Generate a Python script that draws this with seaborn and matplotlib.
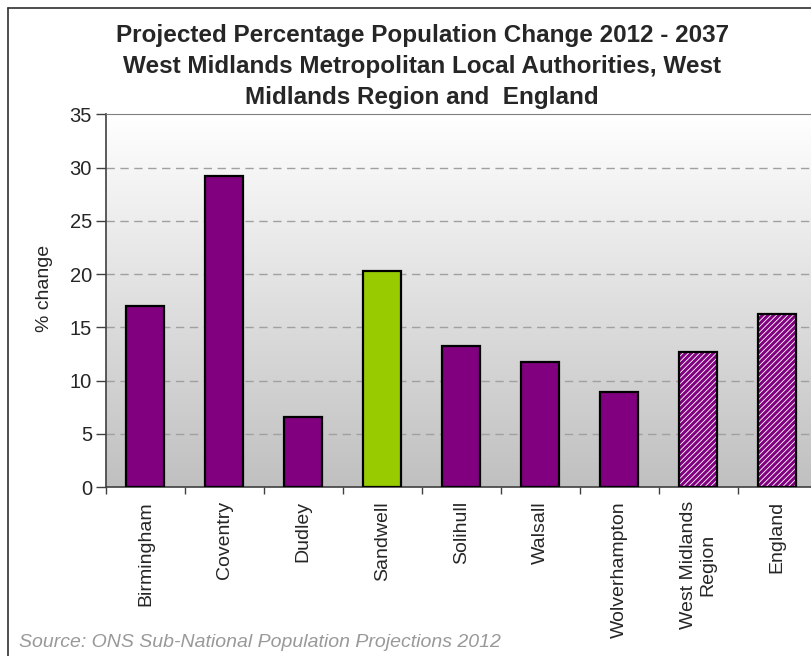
import numpy as np
import seaborn as sns
import pandas as pd
import matplotlib.pyplot as plt
from matplotlib.lines import Line2D

# data
areas = ['Birmingham', 'Coventry', 'Dudley', 'Sandwell', 'Solihull', 'Walsall',
         'Wolverhampton', 'West Midlands\nRegion', 'England']
pct_change = [17.0, 29.2, 6.6, 20.3, 13.25, 11.7, 8.9, 12.7, 16.3]
bar_kind = ['la', 'la', 'la', 'focus', 'la', 'la', 'la', 'comparator', 'comparator']

df = pd.DataFrame({'area': areas, 'change': pct_change, 'kind': bar_kind})

purple = '#800080'
green = '#99CC00'
colors = [green if k == 'focus' else purple for k in bar_kind]

sns.set_style('white')
plt.rcParams['font.family'] = ['Liberation Sans', 'DejaVu Sans']
plt.rcParams['hatch.linewidth'] = 2.2

fig = plt.figure(figsize=(8.12, 6.56), dpi=100)
ax = fig.add_axes([0.1305, 0.2576, 0.875, 0.5679])

# gradient background, white at top to grey at bottom
grad = np.linspace(0, 1, 256).reshape(-1, 1)
ax.imshow(grad, extent=[0, 1, 0, 1], transform=ax.transAxes, aspect='auto',
          cmap=sns.blend_palette(['#c0c0c0', '#ffffff'], as_cmap=True),
          origin='lower', zorder=0)

# filled bars (hatched ones get purple stripes on white)
sns.barplot(df, x='area', y='change', hue='area', palette=colors, legend=False,
            width=0.48, linewidth=0, saturation=1, ax=ax, zorder=3)
for patch, k in zip(ax.patches, bar_kind):
    if k == 'comparator':
        patch.set_facecolor('white')
        patch.set_edgecolor(purple)
        patch.set_hatch('//////')
        patch.set_linewidth(0)

# black outlines on top
sns.barplot(df, x='area', y='change', fill=False, color='black', width=0.48,
            linewidth=1.6, ax=ax, zorder=4)

ax.set_xlim(-0.5, len(areas) - 0.5)
ax.set_ylim(0, 35)
ax.set_yticks(range(0, 36, 5))
for y in range(5, 35, 5):
    ax.axhline(y, color='#a0a0a0', lw=1, ls=(0, (6, 4)), zorder=1)

ax.set_xticks(np.arange(-0.5, len(areas), 1), minor=True)
ax.tick_params(axis='x', which='major', length=0, labelsize=14, rotation=90, pad=10)
ax.tick_params(axis='x', which='minor', length=5, width=1, color='#404040', bottom=True)
ax.tick_params(axis='y', length=7, width=1, color='#404040', labelsize=14.5, left=True, pad=3)
ax.set_xlabel('')
ax.set_ylabel('% change', fontsize=14)
ax.yaxis.set_label_coords(-0.0746, 0.534)

for side in ['left', 'bottom']:
    ax.spines[side].set_color('#404040')
    ax.spines[side].set_linewidth(1.2)
ax.spines['top'].set_color('#808080')
ax.spines['right'].set_visible(False)

fig.text(0.52, 0.898, 'Projected Percentage Population Change 2012 - 2037\n'
         'West Midlands Metropolitan Local Authorities, West\n'
         'Midlands Region and  England',
         ha='center', va='center', fontsize=17.5, fontweight='bold', linespacing=1.44)

fig.text(0.023, 0.02, 'Source: ONS Sub-National Population Projections 2012',
         fontsize=14, style='italic', color='#999999', va='center')

fig.add_artist(Line2D([8 / 812, 8 / 812], [0, 1 - 8 / 656], color='#303030', lw=1.2))
fig.add_artist(Line2D([8 / 812, 1], [1 - 8 / 656, 1 - 8 / 656], color='#303030', lw=1.2))

fig.savefig('out.png', dpi=100)
